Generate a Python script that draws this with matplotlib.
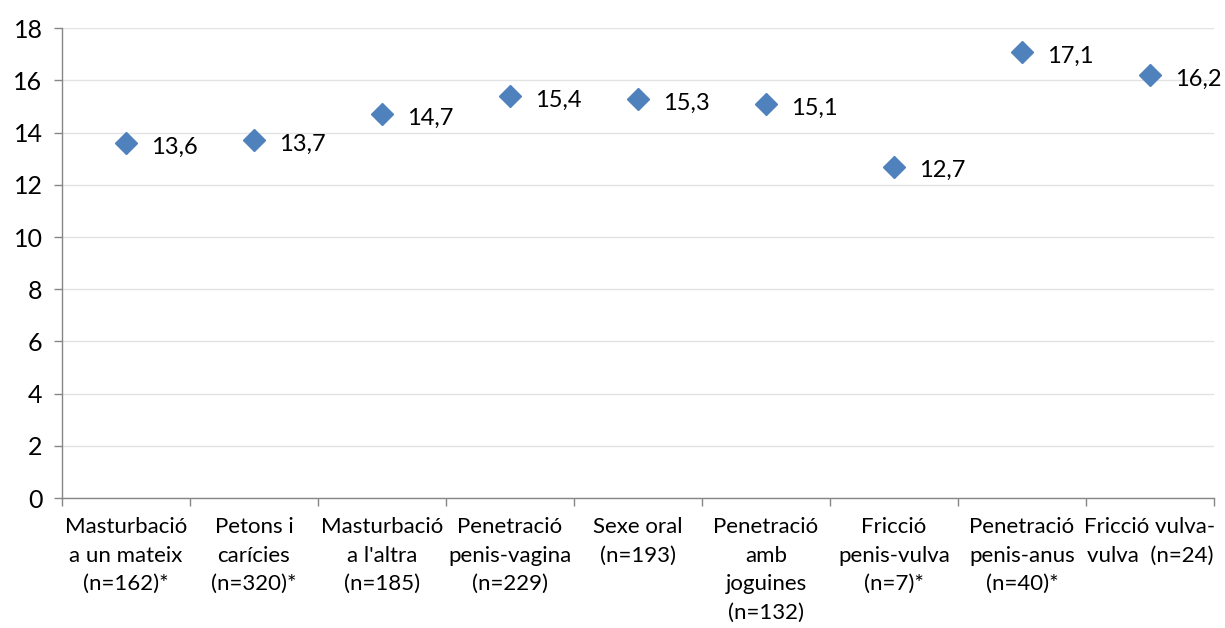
import matplotlib
matplotlib.use("Agg")
import matplotlib.pyplot as plt
import numpy as np

categories = [
    "Masturbació\na un mateix\n(n=162)*",
    "Petons i\ncarícies\n(n=320)*",
    "Masturbació\na l'altra\n(n=185)",
    "Penetració\npenis-vagina\n(n=229)",
    "Sexe oral\n(n=193)",
    "Penetració\namb\njoguines\n(n=132)",
    "Fricció\npenis-vulva\n(n=7)*",
    "Penetració\npenis-anus\n(n=40)*",
    "Fricció vulva-\nvulva  (n=24)",
]
values = [13.6, 13.7, 14.7, 15.4, 15.3, 15.1, 12.7, 17.1, 16.2]
value_labels = ["13,6", "13,7", "14,7", "15,4", "15,3", "15,1", "12,7", "17,1", "16,2"]
yticks = [0, 2, 4, 6, 8, 10, 12, 14, 16, 18]

plt.rcParams['font.family'] = ['Lato', 'DejaVu Sans']

fig = plt.figure(figsize=(12.25, 6.28), dpi=100)
ax = fig.add_axes([0.0506, 0.207, 0.9404, 0.748])

x = np.arange(len(categories))
ax.plot(x, values, linestyle='none', marker='D', markersize=11,
        color='#4F81BD', zorder=3)
for xi, v, lab in zip(x, values, value_labels):
    ax.annotate(lab, (xi, v), xytext=(18, -3), textcoords='offset points',
                ha='left', va='center', fontsize=17, color='black')

ax.set_xlim(-0.5, len(categories) - 0.5)
ax.set_ylim(0, 18)
ax.set_yticks(yticks)
ax.set_yticklabels([str(t) for t in yticks], fontsize=18)
ax.yaxis.grid(True, color='#E3E3E3', linewidth=1)
ax.set_axisbelow(True)

ax.set_xticks(x)
ax.set_xticklabels(categories, fontsize=16, linespacing=1.52)
ax.tick_params(axis='x', which='major', length=0, pad=14)
ax.set_xticks(np.arange(-0.5, len(categories), 1), minor=True)
ax.tick_params(axis='x', which='minor', length=6, color='#868686', width=1)
ax.tick_params(axis='y', length=6, color='#868686', width=1, pad=8)

for s in ['top', 'right']:
    ax.spines[s].set_visible(False)
for s in ['left', 'bottom']:
    ax.spines[s].set_color('#868686')
    ax.spines[s].set_linewidth(1)

fig.savefig('out.png', dpi=100)
